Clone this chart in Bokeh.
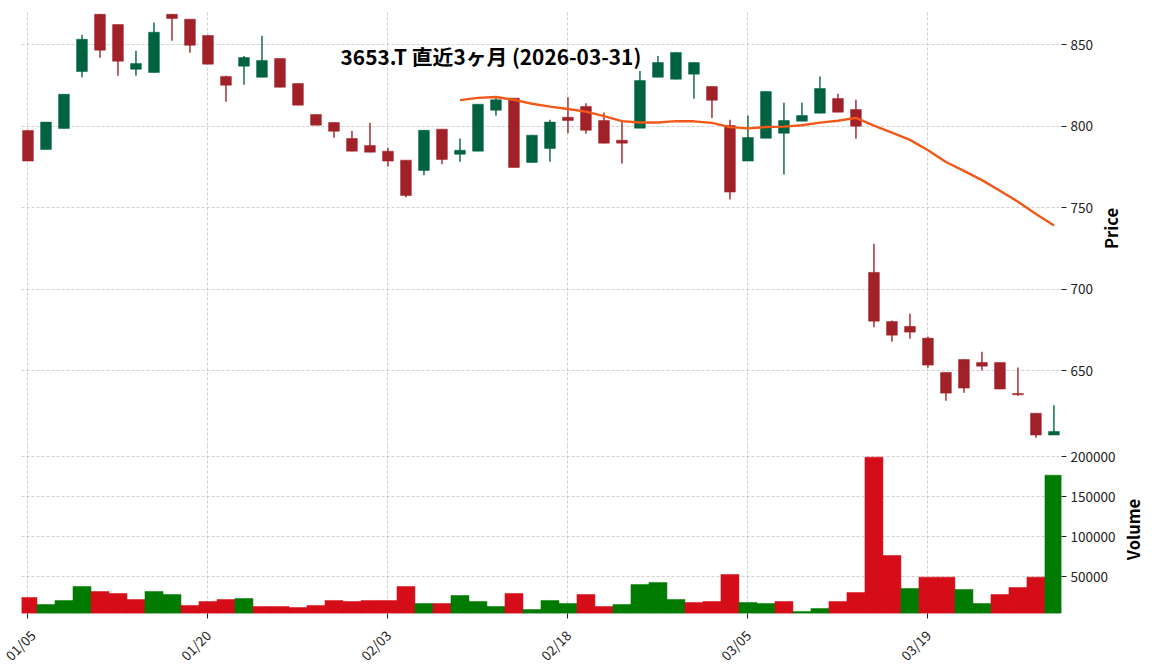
import math
import pandas as pd
from bokeh.plotting import figure
from bokeh.layouts import column, row
from bokeh.models import ColumnDataSource, FixedTicker, Label, Range1d, BasicTickFormatter
from bokeh.embed import file_html
from bokeh.resources import INLINE

dates = ["01/05", "01/06", "01/07", "01/08", "01/09", "01/13", "01/14", "01/15", "01/16", "01/19",
         "01/20", "01/21", "01/22", "01/23", "01/26", "01/27", "01/28", "01/29", "01/30", "02/02",
         "02/03", "02/04", "02/05", "02/06", "02/09", "02/10", "02/12", "02/13", "02/16", "02/17",
         "02/18", "02/19", "02/20", "02/24", "02/25", "02/26", "02/27", "03/02", "03/03", "03/04",
         "03/05", "03/06", "03/09", "03/10", "03/11", "03/12", "03/13", "03/16", "03/17", "03/18",
         "03/19", "03/23", "03/24", "03/25", "03/26", "03/27", "03/30", "03/31"]

opens = [797.4, 785.7, 798.6, 833.5, 868.6, 862.3, 834.9, 832.9, 868.6, 865.6,
         855.6, 830.5, 836.8, 830.0, 841.5, 826.2, 807.2, 802.3, 792.5, 788.2,
         784.7, 779.2, 772.9, 798.2, 782.8, 784.7, 809.8, 817.2, 777.8, 786.3,
         805.5, 812.1, 803.5, 791.4, 798.8, 830.0, 828.8, 831.9, 824.3, 800.4,
         778.6, 792.6, 795.7, 803.1, 808.0, 817.0, 810.2, 710.4, 680.3, 677.3,
         670.1, 649.1, 657.0, 655.2, 655.2, 636.2, 624.1, 610.7]
highs = [797.4, 802.5, 819.6, 856.0, 868.6, 862.3, 846.2, 863.5, 868.6, 865.6,
         855.6, 830.9, 843.1, 855.4, 841.5, 826.2, 807.2, 802.3, 797.2, 802.1,
         786.8, 779.2, 797.5, 798.2, 792.5, 813.5, 817.6, 817.2, 794.5, 803.9,
         817.8, 814.1, 808.4, 803.5, 833.9, 843.1, 845.2, 839.0, 824.3, 803.9,
         806.6, 821.3, 814.3, 814.3, 830.5, 819.9, 816.2, 727.9, 680.9, 685.0,
         671.0, 649.1, 657.0, 661.8, 655.2, 652.1, 624.1, 629.0]
lows = [778.6, 785.7, 798.6, 830.0, 841.9, 830.9, 830.9, 832.9, 852.3, 845.0,
        838.0, 815.0, 825.4, 830.0, 823.9, 812.9, 800.6, 792.9, 784.7, 784.1,
        775.3, 756.5, 770.0, 776.7, 778.2, 784.7, 806.4, 774.7, 777.8, 778.2,
        795.7, 795.3, 789.6, 777.1, 798.8, 830.0, 828.8, 816.8, 805.1, 755.1,
        778.6, 792.6, 770.4, 803.1, 808.0, 808.6, 792.3, 676.8, 667.9, 669.7,
        652.0, 631.7, 636.6, 650.3, 638.9, 634.8, 609.1, 610.7]
closes = [778.6, 802.5, 819.6, 853.3, 846.6, 839.8, 838.4, 857.6, 866.0, 849.6,
          838.0, 825.1, 842.1, 840.3, 823.9, 812.9, 800.6, 796.9, 784.7, 784.1,
          778.6, 757.5, 797.5, 779.6, 785.3, 813.5, 816.2, 774.7, 794.5, 802.5,
          803.5, 797.5, 789.6, 789.6, 828.0, 839.0, 845.2, 839.0, 815.9, 759.6,
          793.1, 821.3, 803.5, 806.6, 823.1, 808.6, 800.0, 680.5, 671.9, 673.8,
          653.6, 636.4, 639.5, 652.9, 638.9, 635.4, 610.7, 612.9]
volumes = [24240, 15510, 20500, 37950, 31720, 29220, 21750, 31720, 27980, 14270,
           19250, 21750, 22990, 13020, 13020, 11780, 14270, 20500, 19250, 20500,
           20500, 37950, 16760, 16760, 26730, 19250, 13020, 29220, 9280, 20500,
           16760, 27980, 13020, 15510, 40440, 42940, 21750, 18010, 19250, 52910,
           18010, 16760, 19250, 6790, 10530, 19250, 30470, 199160, 76590, 35460,
           49580, 49580, 34210, 16760, 27980, 36700, 49580, 176730]

price_ticks = [650, 700, 750, 800, 850]
volume_ticks = [50000, 100000, 150000, 200000]
x_tick_idx = [0, 10, 20, 30, 40, 50]
title_text = "3653.T 直近3ヶ月 (2026-03-31)"
MAV = 25

UP, DOWN = "#006340", "#A02128"
VUP, VDOWN = "#007a00", "#d50d18"
FONT = "Noto Sans CJK JP"
GRID = "#c4c4c4"

n = len(dates)
idx = list(range(n))
ma = pd.Series(closes).rolling(MAV).mean()

df = pd.DataFrame(dict(i=idx, open=opens, high=highs, low=lows, close=closes, volume=volumes))
df["color"] = [UP if c >= o else DOWN for o, c in zip(opens, closes)]
vcol = []
for k in range(n):
    ref = opens[0] if k == 0 else closes[k - 1]
    vcol.append(VUP if closes[k] >= ref else VDOWN)
df["vcolor"] = vcol
src = ColumnDataSource(df)
ma_src = ColumnDataSource(dict(i=idx, ma=ma))

X0, X1 = -0.36, 57.42
P0, P1 = 604.3, 870.3
V0, V1 = 4240, 213700
xr = Range1d(X0, X1)

PRICE_H, VOL_H = 434, 168

p = figure(frame_width=1040, frame_height=PRICE_H, x_range=xr, y_range=Range1d(P0, P1),
           output_backend="svg", toolbar_location=None, y_axis_location="right",
           min_border_left=21, min_border_top=11, min_border_bottom=0, min_border_right=38)
p.segment(x0="i", y0="high", x1="i", y1="low", color="color", line_width=1.4, source=src)
p.vbar(x="i", width=0.6, top="open", bottom="close", fill_color="color", line_color="color",
       line_width=0.5, source=src)
p.line(x="i", y="ma", color="#f2581a", line_width=2.4, source=ma_src)

p.add_layout(Label(x=25.72, y=843.3, text=title_text, text_align="center", text_baseline="middle",
                   text_font=FONT, text_font_size="20.8px", text_font_style="bold", text_color="black"))

v = figure(frame_width=1040, frame_height=VOL_H, x_range=xr, y_range=Range1d(V0, V1),
           output_backend="svg", toolbar_location=None, y_axis_location="right",
           min_border_left=21, min_border_top=0, min_border_bottom=0, min_border_right=60)
v.vbar(x="i", width=1.0, top="volume", bottom=0, fill_color="vcolor", line_color="vcolor",
       line_width=0.5, source=src)


def side_label(text, height, top):
    f = figure(frame_width=22, frame_height=height, x_range=Range1d(0, 1), y_range=Range1d(0, 1),
               output_backend="svg", toolbar_location=None, x_axis_type=None, y_axis_type=None,
               min_border_left=0, min_border_right=0, min_border_top=top, min_border_bottom=0)
    f.outline_line_color = None
    f.grid.visible = False
    f.add_layout(Label(x=0.5, y=0.5, text=text, angle=math.pi / 2, text_align="center",
                       text_baseline="middle", text_font=FONT, text_font_size="16.5px",
                       text_font_style="bold", text_color="black"))
    return f


pl = side_label("Price", PRICE_H, 11)
vl = side_label("Volume", VOL_H, 0)

for f in (p, v):
    f.outline_line_color = None
    f.background_fill_color = "white"
    f.border_fill_color = "white"
    f.xgrid.ticker = FixedTicker(ticks=x_tick_idx)
    for g in (f.xgrid, f.ygrid):
        g.grid_line_color = GRID
        g.grid_line_dash = "3 2"
        g.grid_line_width = 0.8
    ya = f.yaxis[0]
    ya.axis_line_color = None
    ya.major_tick_out = 5
    ya.major_tick_in = 0
    ya.minor_tick_line_color = None
    ya.major_tick_line_color = "#222222"
    ya.major_label_text_font = FONT
    ya.major_label_text_font_size = "13.5px"
    ya.major_label_text_color = "#222222"
    ya.major_label_standoff = 4

p.yaxis[0].ticker = FixedTicker(ticks=price_ticks)
p.xaxis.visible = False

v.yaxis[0].ticker = FixedTicker(ticks=volume_ticks)
v.yaxis[0].formatter = BasicTickFormatter(use_scientific=False)

xa = v.xaxis[0]
xa.ticker = FixedTicker(ticks=x_tick_idx)
xa.major_label_overrides = {k: dates[k] for k in x_tick_idx}
xa.major_label_orientation = math.pi / 4
xa.axis_line_color = None
xa.major_tick_out = 5
xa.major_tick_in = 0
xa.minor_tick_line_color = None
xa.major_tick_line_color = "#222222"
xa.major_label_text_font = FONT
xa.major_label_text_font_size = "13.5px"
xa.major_label_text_color = "#222222"
xa.major_label_standoff = 14

layout = column(row(p, pl, spacing=0), row(v, vl, spacing=0), spacing=0)
open("out.html", "w").write(file_html(layout, INLINE))
